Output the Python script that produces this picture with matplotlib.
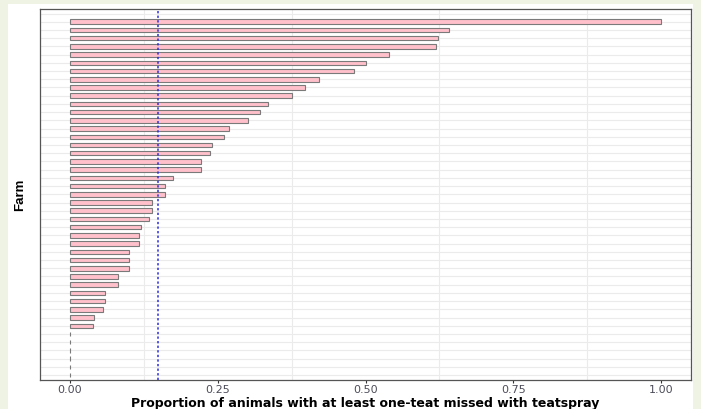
import numpy as np
import matplotlib
matplotlib.use("Agg")
import matplotlib.pyplot as plt
from matplotlib.patches import Rectangle

# ---- data (top to bottom) ----
farms = [f"Farm {i}" for i in range(1, 46)]
proportion = [np.nan, 1.00, 0.641, 0.623, 0.619, 0.540, 0.500, 0.480, 0.421, 0.398,
              0.376, 0.335, 0.321, 0.301, 0.269, 0.261, 0.240, 0.237, 0.222, 0.222,
              0.174, 0.162, 0.162, 0.140, 0.140, 0.134, 0.120, 0.117, 0.117, 0.100,
              0.100, 0.100, 0.081, 0.081, 0.059, 0.059, 0.056, 0.041, 0.039, 0.0,
              0.0, 0.0, 0.0, 0.0, 0.0]
reference_line = 0.15
x_ticks = [0.0, 0.25, 0.50, 0.75, 1.00]
x_tick_labels = ["0.00", "0.25", "0.50", "0.75", "1.00"]
x_minor = [0.125, 0.375, 0.625, 0.875]

W, H = 701, 410
fig = plt.figure(figsize=(W / 100, H / 100), dpi=100, facecolor="#EEF3E3")
# white plotting card
card = Rectangle((8 / W, 0), (693 - 8) / W, 405 / H,
                 transform=fig.transFigure, facecolor="white",
                 edgecolor="none", zorder=-5)
fig.patches.append(card)

left, right, top, bottom = 40, 691, 9.6, 381
ax = fig.add_axes([left / W, (H - bottom) / H, (right - left) / W, (bottom - top) / H])
ax.set_facecolor("white")

n = len(farms)
ypos = np.arange(n)
vals = np.array(proportion, dtype=float)
mask = ~np.isnan(vals)

# grid lines
for yy in ypos:
    ax.axhline(yy, color="#EBEBEB", lw=0.8, zorder=0)
for xx in x_minor:
    ax.axvline(xx, color="#EBEBEB", lw=0.8, zorder=0)

ax.barh(ypos[mask], vals[mask], height=0.55, color="#FFC0CB",
        edgecolor="#7A7A7A", linewidth=0.8, zorder=2)
ax.axvline(reference_line, color="#2B2BE0", lw=1.1, ls=(0, (1.5, 1.5)), zorder=3)

ax.set_xlim(-0.05, 1.05)
ax.set_ylim(n - 0.4, -0.6)
ax.set_xticks(x_ticks)
ax.set_xticklabels(x_tick_labels, fontsize=8, color="#4D4D5A",
                   family=["DejaVu Sans"])
ax.set_yticks([])
ax.tick_params(axis="x", length=2, color="#333333", pad=0.8)
for s in ax.spines.values():
    s.set_color("#555555")
    s.set_linewidth(0.9)

ax.set_xlabel("Proportion of animals with at least one-teat missed with teatspray",
              fontsize=9, fontweight="bold", color="black",
              family=["DejaVu Sans"], va="bottom")
ax.xaxis.set_label_coords(0.5, (bottom - 409.6) / (bottom - top))
ax.set_ylabel("Farm", fontsize=9.5, fontweight="bold", color="black",
              family=["Liberation Sans", "DejaVu Sans"], va="center")
ax.yaxis.set_label_coords((20 - left) / (right - left), 0.5)

fig.savefig("out.png", dpi=100, facecolor=fig.get_facecolor())
